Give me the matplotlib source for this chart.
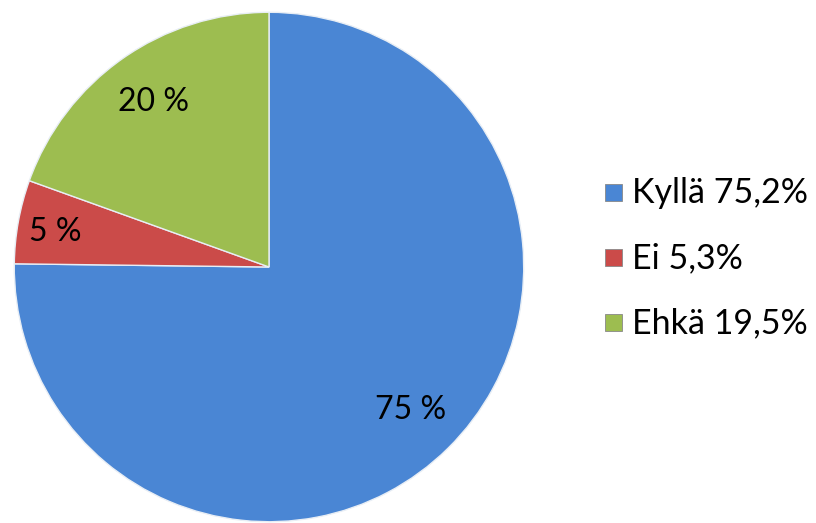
import matplotlib
matplotlib.use("Agg")
import matplotlib.pyplot as plt
import numpy as np
from matplotlib.patches import Rectangle

labels = ["Kyllä 75,2%", "Ei 5,3%", "Ehkä 19,5%"]
values = [75.2, 5.3, 19.5]
colors = ["#4A86D4", "#CB4B49", "#9DBD50"]

plt.rcParams["font.family"] = ["Lato", "DejaVu Sans"]

fig = plt.figure(figsize=(8.16, 5.23), dpi=100)
ax = fig.add_axes([13 / 816, 0.0, 512 / 816, 512 / 523])


def pct(p):
    return f"{np.floor(p + 0.5):.0f} %"


wedges, texts, autotexts = ax.pie(
    values,
    colors=colors,
    startangle=90,
    counterclock=False,
    radius=0.995,
    autopct=pct,
    pctdistance=0.79,
    wedgeprops=dict(edgecolor="#E8EEF5", linewidth=1.0),
    textprops=dict(fontsize=23, color="black"),
)
# small slice label sits further out, like the original
autotexts[1].set_position((-0.835, 0.135))

ax.set_xlim(-1, 1)
ax.set_ylim(-1, 1)
ax.set_aspect("auto")
ax.axis("off")

# legend drawn by hand: square marker + text
ys = [193, 258, 323]
for lab, col, y in zip(labels, colors, ys):
    yf = 1 - y / 523
    fig.patches.append(
        Rectangle((605 / 816, yf - 8 / 523), 17 / 816, 17 / 523,
                  transform=fig.transFigure, facecolor=col,
                  edgecolor="#888888", linewidth=0.6)
    )
    fig.text(632 / 816, yf, lab, fontsize=24.5, va="center", ha="left")

fig.savefig("out.png", dpi=100)
